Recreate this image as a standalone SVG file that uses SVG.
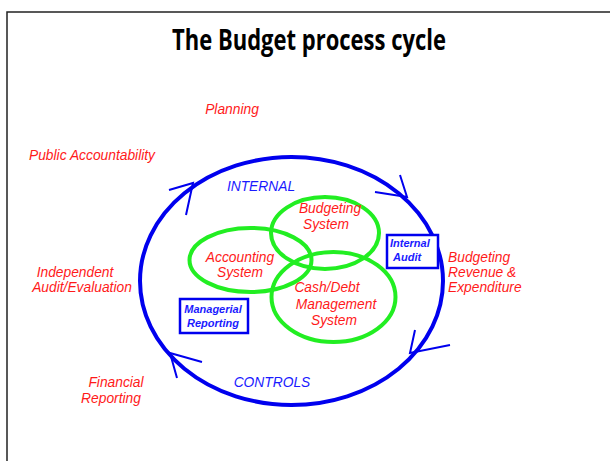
<svg xmlns="http://www.w3.org/2000/svg" width="610" height="461" viewBox="0 0 610 461">
<style>
.red{font-family:"Liberation Sans",Arial,sans-serif;font-style:italic;font-size:13.8px;fill:#ff1a1a}
.blue{font-family:"Liberation Sans",Arial,sans-serif;font-style:italic;font-size:13.8px;fill:#1a1aff}
.box{font-family:"Liberation Sans",Arial,sans-serif;font-style:italic;font-weight:bold;font-size:11px;fill:#1a1aff}
.g{fill:none;stroke:#22ee22;stroke-width:4}
.bx{fill:#fff;stroke:#0000ee;stroke-width:2.5}
.arr{fill:none;stroke:#0000ee;stroke-width:2}
</style>
<rect x="0" y="0" width="610" height="461" fill="#fff"/>
<rect x="7" y="12" width="620" height="470" fill="none" stroke="#222" stroke-width="1.5"/>
<text x="309" y="50" text-anchor="middle" font-family="'Open Sans','Liberation Sans',sans-serif" font-weight="bold" font-size="28" textLength="274" lengthAdjust="spacingAndGlyphs" fill="#000">The Budget process cycle</text>
<g id="connectors">
<ellipse cx="291.5" cy="281" rx="151.5" ry="124" fill="none" stroke="#0000ee" stroke-width="4"/>
<polyline class="arr" points="169,190 193,183 186,215"/>
<polyline class="arr" points="375,192 407,197 400,175"/>
<polyline class="arr" points="415,330 410,353 450,345"/>
<polyline class="arr" points="202,362 170,353 177,378"/>
</g>
<g id="budgeting"><ellipse class="g" cx="325" cy="233" rx="54" ry="36"/></g>
<g id="accounting"><ellipse class="g" cx="250.5" cy="260" rx="61" ry="32"/></g>
<g id="cashdebt"><ellipse class="g" cx="333.5" cy="297" rx="62" ry="45"/></g>
<g id="budgeting-label"><text class="red" text-anchor="middle"><tspan x="330" y="213">Budgeting</tspan><tspan x="326" y="229">System</tspan></text></g>
<g id="accounting-label"><text class="red" text-anchor="middle"><tspan x="240" y="262">Accounting</tspan><tspan x="240" y="277">System</tspan></text></g>
<g id="cashdebt-label"><text class="red" text-anchor="middle"><tspan x="327" y="292">Cash/Debt</tspan><tspan x="336" y="309">Management</tspan><tspan x="334" y="325">System</tspan></text></g>
<g id="internal-audit"><rect class="bx" x="387" y="235" width="51" height="33"/><text class="box"><tspan x="390" y="247">Internal</tspan><tspan x="393" y="261">Audit</tspan></text></g>
<g id="managerial-reporting"><rect class="bx" x="180" y="299" width="68" height="34"/><text class="box" text-anchor="middle"><tspan x="213" y="313">Managerial</tspan><tspan x="213" y="327">Reporting</tspan></text></g>
<g id="planning"><text class="red" x="232" y="114" text-anchor="middle">Planning</text></g>
<g id="public-accountability"><text class="red" x="92" y="160" text-anchor="middle">Public Accountability</text></g>
<g id="independent-audit"><text class="red" text-anchor="middle"><tspan x="75" y="277">Independent</tspan><tspan x="82" y="292">Audit/Evaluation</tspan></text></g>
<g id="financial-reporting"><text class="red" text-anchor="middle"><tspan x="116" y="387">Financial</tspan><tspan x="111" y="403">Reporting</tspan></text></g>
<g id="budgeting-revenue"><text class="red"><tspan x="448" y="262">Budgeting</tspan><tspan x="448" y="277">Revenue &amp;</tspan><tspan x="448" y="292">Expenditure</tspan></text></g>
<g id="internal"><text class="blue" x="261" y="191" text-anchor="middle">INTERNAL</text></g>
<g id="controls"><text class="blue" x="272" y="387" text-anchor="middle">CONTROLS</text></g>
</svg>
